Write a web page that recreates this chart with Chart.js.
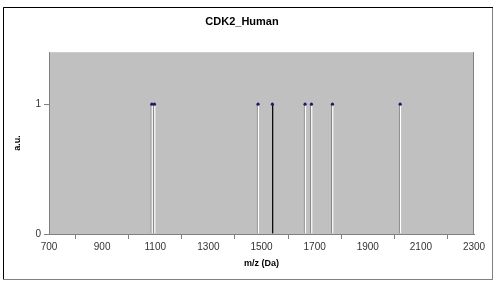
<!DOCTYPE html>
<html>
<head>
<meta charset="utf-8">
<script src="https://cdn.jsdelivr.net/npm/chart.js@4"></script>
<style>
  html, body { margin: 0; padding: 0; background: #fff; }
  canvas { display: block; }
</style>
</head>
<body>
<canvas id="chart" width="500" height="290"></canvas>
<script>
// peak masses (Da) and their intensity
const peakMasses = [1087, 1097, 1487, 1541, 1664, 1688, 1767, 2022];
const peakIntensity = [1, 1, 1, 1, 1, 1, 1, 1];
const peakColors = ['#ffffff', '#ffffff', '#ffffff', '#000000', '#ffffff', '#ffffff', '#ffffff', '#ffffff'];
const xTicks = [700, 900, 1100, 1300, 1500, 1700, 1900, 2100, 2300];
const yTicks = [0, 1];

const peaks = peakMasses.map((m, i) => ({ x: m, y: peakIntensity[i] }));

const backdrop = {
  id: 'backdrop',
  beforeDraw(chart) {
    const { ctx, chartArea: a } = chart;
    ctx.save();
    // outer frame
    ctx.lineWidth = 1;
    ctx.strokeStyle = '#808080';
    ctx.strokeRect(3.5, 7.5, 489, 272);
    ctx.strokeStyle = '#000';
    ctx.beginPath();
    ctx.moveTo(3.5, 279); ctx.lineTo(3.5, 7.5); ctx.lineTo(493, 7.5);
    ctx.stroke();
    // plot area
    ctx.fillStyle = '#c0c0c0';
    ctx.fillRect(a.left, a.top, a.right - a.left, a.bottom - a.top);
    ctx.strokeStyle = '#808080';
    ctx.beginPath();
    ctx.moveTo(a.right - 0.5, a.top); ctx.lineTo(a.right - 0.5, a.bottom);
    ctx.stroke();
    ctx.restore();
  }
};

const font = 'Liberation Sans, Arial, sans-serif';

new Chart(document.getElementById('chart'), {
  type: 'bar',
  data: {
    datasets: [{
      type: 'scatter',
      data: peaks,
      pointRadius: 1.6,
      pointBackgroundColor: '#1c1c66',
      pointBorderColor: '#1c1c66',
      pointBorderWidth: 0,
      order: 0
    }, {
      type: 'bar',
      data: peaks,
      barThickness: 2,
      backgroundColor: peakColors,
      // the black peak is a single dark line, the others white with a grey edge
      borderColor: peakColors.map(c => c === '#000000' ? '#c0c0c0' : '#7a7a7a'),
      borderWidth: { left: 1 },
      borderSkipped: 'bottom',
      order: 1
    }]
  },
  options: {
    responsive: false,
    animation: false,
    layout: { padding: { left: 10, right: 26, top: 0, bottom: 20 } },
    plugins: {
      legend: { display: false },
      tooltip: { enabled: false },
      title: {
        display: true,
        text: 'CDK2_Human',
        color: '#000',
        font: { family: font, size: 11, weight: 'bold' },
        padding: { top: 15, bottom: 24 }
      }
    },
    scales: {
      x: {
        type: 'linear',
        min: 700,
        max: 2300,
        offset: false,
        afterBuildTicks: s => { s.ticks = xTicks.map(v => ({ value: v })); },
        afterFit: s => { s.height = 36; },
        ticks: {
          color: '#333',
          font: { family: font, size: 10 },
          padding: 2,
          maxRotation: 0,
          callback: v => String(v)
        },
        grid: { drawOnChartArea: false, tickLength: 5, color: '#808080' },
        border: { color: '#808080' },
        title: {
          display: true,
          text: 'm/z (Da)',
          color: '#000',
          font: { family: font, size: 9, weight: 'bold' },
          padding: { top: 0, bottom: 1 }
        }
      },
      y: {
        min: 0,
        max: 1.4,
        afterBuildTicks: s => { s.ticks = yTicks.map(v => ({ value: v })); },
        afterFit: s => { s.width = 39; },
        ticks: {
          color: '#333',
          font: { family: font, size: 10 },
          padding: 3,
          callback: v => String(v)
        },
        grid: { drawOnChartArea: false, tickLength: 5, color: '#808080' },
        border: { color: '#808080' },
        title: {
          display: true,
          text: 'a.u.',
          color: '#000',
          font: { family: font, size: 9, weight: 'bold' },
          padding: { top: 2, bottom: 0 }
        }
      }
    }
  },
  plugins: [backdrop]
});
</script>
</body>
</html>
